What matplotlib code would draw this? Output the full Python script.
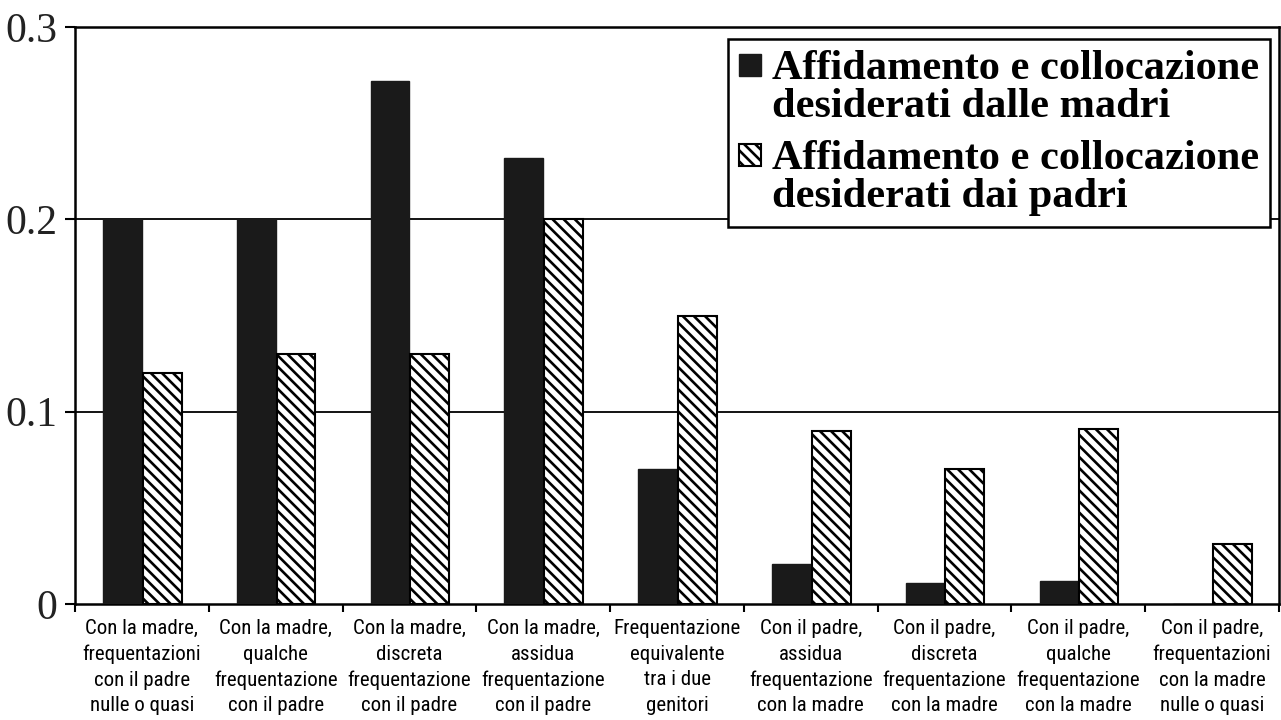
import matplotlib
matplotlib.use("Agg")
import matplotlib.pyplot as plt
from matplotlib import font_manager
from matplotlib.patches import Rectangle
from matplotlib.legend_handler import HandlerPatch, update_from_first_child
from matplotlib.container import BarContainer
import numpy as np

categories = [
    "Con la madre,\nfrequentazioni\ncon il padre\nnulle o quasi",
    "Con la madre,\nqualche\nfrequentazione\ncon il padre",
    "Con la madre,\ndiscreta\nfrequentazione\ncon il padre",
    "Con la madre,\nassidua\nfrequentazione\ncon il padre",
    "Frequentazione\nequivalente\ntra i due\ngenitori",
    "Con il padre,\nassidua\nfrequentazione\ncon la madre",
    "Con il padre,\ndiscreta\nfrequentazione\ncon la madre",
    "Con il padre,\nqualche\nfrequentazione\ncon la madre",
    "Con il padre,\nfrequentazioni\ncon la madre\nnulle o quasi",
]
madri = [0.200, 0.200, 0.272, 0.232, 0.070, 0.021, 0.011, 0.012, 0.0]
padri = [0.120, 0.130, 0.130, 0.200, 0.150, 0.090, 0.070, 0.091, 0.031]
series_labels = ["Affidamento e collocazione\ndesiderati dalle madri",
                 "Affidamento e collocazione\ndesiderati dai padri"]
yticks = [0, 0.1, 0.2, 0.3]
ytick_labels = ["0", "0.1", "0.2", "0.3"]

def pick_font(cands):
    for c, size, ls in cands:
        try:
            font_manager.findfont(c, fallback_to_default=False)
            return c, size, ls
        except Exception:
            continue
    return "Liberation Sans", 13.8, 1.5

xfont, xsize, xls = pick_font([("Liberation Sans Narrow", 15.0, 1.5),
                               ("Roboto Condensed", 15.0, 1.43)])

plt.rcParams['hatch.linewidth'] = 1.9

fig = plt.figure(figsize=(12.81, 7.2), dpi=100)
ax = fig.add_axes([75/1281, 116/720, 1204/1281, 577/720])

x = np.arange(len(categories))
w = 0.29
ax.bar(x - 0.145, madri, w, color="#1a1a1a", edgecolor="#1a1a1a",
       linewidth=1.0, label=series_labels[0], zorder=3)
ax.bar(x + 0.152, padri, w, color="white", edgecolor="black",
       hatch="\\\\\\", linewidth=1.5, label=series_labels[1], zorder=3)

ax.set_xlim(-0.5, len(categories) - 0.5)
ax.set_ylim(0, 0.3)

ax.set_yticks(yticks)
ax.set_yticklabels(ytick_labels, fontfamily="Liberation Serif", fontsize=30,
                   color="#222222")
ax.tick_params(axis='y', length=7, width=1.5, direction='out', pad=6)

ax.set_xticks(x)
ax.set_xticklabels(categories, fontfamily=xfont, fontsize=xsize,
                   linespacing=xls)
ax.tick_params(axis='x', which='major', length=0, pad=11)
ax.set_xticks(np.arange(len(categories) + 1) - 0.5, minor=True)
ax.tick_params(axis='x', which='minor', length=6, width=1.5, direction='out')

for yv in [0.1, 0.2]:
    ax.axhline(yv, color="black", linewidth=1.3, zorder=1)

for s in ax.spines.values():
    s.set_linewidth(1.8)
    s.set_color("black")

LEG_FS = 30.5
LINE_PITCH_PT = 38 * 72 / 100.0
SQ = 16.0

def top_square(legend, orig_handle, xdescent, ydescent, width, height, fontsize):
    y0 = LINE_PITCH_PT + 0.33 * fontsize - SQ / 2 - 10.5
    return Rectangle((-xdescent, y0), SQ, SQ)

leg = ax.legend(loc="upper right", bbox_to_anchor=(0.9925, 0.979),
                borderaxespad=0, fancybox=False, framealpha=1,
                edgecolor="black",
                prop=font_manager.FontProperties(family="Liberation Serif",
                                                 weight="bold", size=LEG_FS),
                handlelength=SQ / LEG_FS, handleheight=SQ / LEG_FS,
                handletextpad=0.26, borderpad=0.26, labelspacing=0.33,
                handler_map={BarContainer: HandlerPatch(
                    patch_func=top_square, update_func=update_from_first_child)})
leg.get_frame().set_linewidth(1.8)
for t in leg.get_texts():
    t.set_linespacing(1.0)

fig.savefig("out.png", dpi=100)
